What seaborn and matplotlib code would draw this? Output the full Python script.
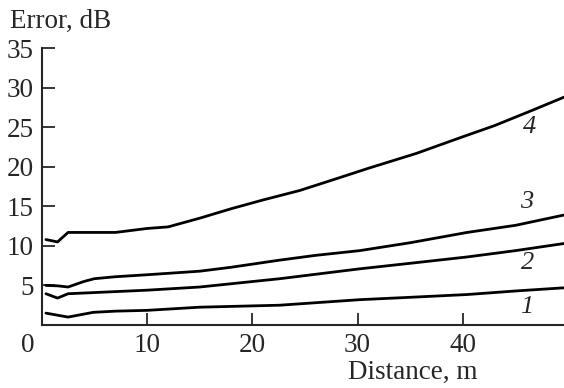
import matplotlib
matplotlib.use("Agg")
import matplotlib.pyplot as plt
import matplotlib.transforms as mtransforms
import seaborn as sns
import pandas as pd

# Data
x1 = [0.4, 2.5, 4.9, 7, 10, 15, 22.6, 30.2, 35, 40.4, 45, 49.6]
y1 = [1.5, 1.0, 1.6, 1.75, 1.85, 2.25, 2.5, 3.2, 3.5, 3.85, 4.3, 4.7]
x2 = [0.4, 1.5, 2.5, 5, 10, 15, 22.6, 30.2, 35, 40.4, 45, 49.6]
y2 = [3.95, 3.4, 3.95, 4.1, 4.4, 4.8, 5.85, 7.1, 7.8, 8.6, 9.4, 10.3]
x3 = [0.4, 1.5, 2.5, 4, 5, 7, 10, 15, 18, 22.6, 26, 30.2, 35, 40.4, 45, 49.6]
y3 = [5.0, 4.95, 4.8, 5.5, 5.85, 6.1, 6.35, 6.8, 7.3, 8.2, 8.8, 9.4, 10.4, 11.7, 12.6, 13.9]
x4 = [0.4, 1.5, 2.5, 5, 7, 10, 12, 15, 18, 21, 24.5, 28, 31, 35.6, 40, 43, 46.7, 49.6]
y4 = [10.8, 10.5, 11.7, 11.7, 11.7, 12.2, 12.4, 13.5, 14.7, 15.8, 17.0, 18.5, 19.8, 21.7, 23.8, 25.2, 27.2, 28.8]
curve_names = ["1", "2", "3", "4"]
label_x = [46.1, 46.1, 46.1, 46.3]
label_y = [2.25, 7.8, 15.5, 25.0]
xticks = [0, 10, 20, 30, 40]
yticks = [5, 10, 15, 20, 25, 30, 35]

frames = []
for name, xs, ys in zip(curve_names, [x1, x2, x3, x4], [y1, y2, y3, y4]):
    frames.append(pd.DataFrame({"Distance": xs, "Error": ys, "curve": name}))
df = pd.concat(frames, ignore_index=True)

sns.set_style("ticks")
plt.rcParams["font.family"] = ["Liberation Serif", "DejaVu Serif"]

fig = plt.figure(figsize=(5.64, 3.88), dpi=100)
ax = fig.add_axes([0.074, 0.1624, 0.926, 0.7136])

sns.lineplot(data=df, x="Distance", y="Error", units="curve", estimator=None,
             color="black", linewidth=2.0, sort=False, ax=ax, legend=False)

for name, lx, ly in zip(curve_names, label_x, label_y):
    ax.text(lx, ly, name, fontsize=19, style="italic", ha="center", va="center")

ax.set_xlim(0, 49.6)
ax.set_ylim(0, 35)
ax.set_xticks(xticks)
ax.set_yticks(yticks)
ax.tick_params(direction="in", length=9, width=1.3, labelsize=19.5, pad=6)
ax.xaxis.get_major_ticks()[0].tick1line.set_visible(False)
# the "0" label sits a little left of the spine in the reference
zero_lbl = ax.get_xticklabels()[0]
zero_lbl.set_transform(zero_lbl.get_transform() +
                       mtransforms.ScaledTranslation(-0.135, 0, fig.dpi_scale_trans))
for s in ["top", "right"]:
    ax.spines[s].set_visible(False)
for s in ["left", "bottom"]:
    ax.spines[s].set_linewidth(1.5)
ax.set_xlabel("")
ax.set_ylabel("")
fig.text(0.017, 0.945, "Error, dB", fontsize=19.5, ha="left", va="center")
fig.text(0.731, 0.04, "Distance, m", fontsize=19.5, ha="center", va="center")

fig.savefig("out.png", dpi=100)
